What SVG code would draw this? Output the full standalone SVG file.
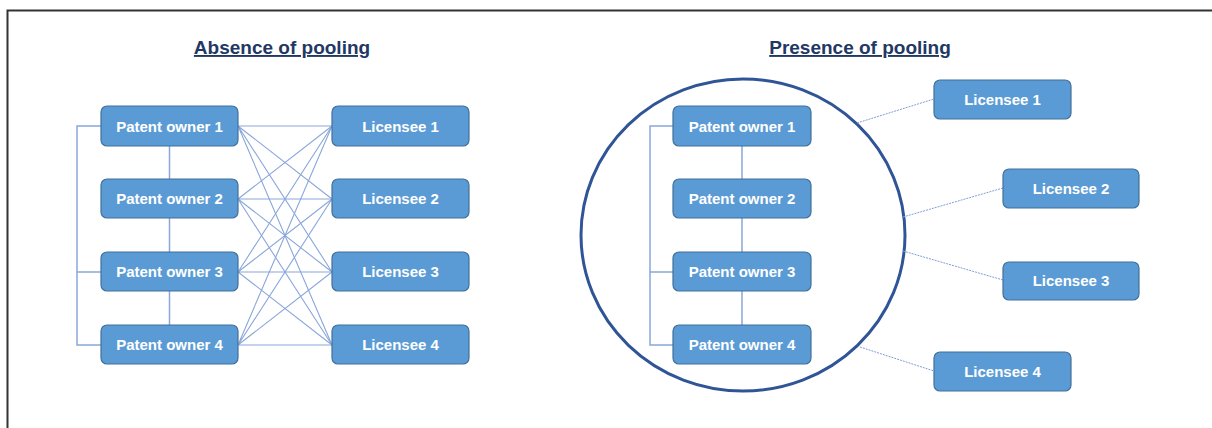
<svg xmlns="http://www.w3.org/2000/svg" width="1212" height="428" viewBox="0 0 1212 428">
  <style>
    .box { fill: #5b9bd5; stroke: #41719c; stroke-width: 1.2; }
    .lbl { font-family: "Liberation Sans", Arial, sans-serif; font-weight: bold; font-size: 15px; fill: #ffffff; text-anchor: middle; }
    .title { font-family: "Liberation Sans", Arial, sans-serif; font-weight: bold; font-size: 19px; fill: #1f3864; text-anchor: middle; text-decoration: underline; }
    .link { stroke: #8aa6da; stroke-width: 1.1; fill: none; }
    .tree { stroke: #8aa6da; stroke-width: 1.5; fill: none; }
    .dash { stroke: #7f9fd5; stroke-width: 1; stroke-dasharray: 2 1; fill: none; }
  </style>
  <rect x="0" y="0" width="1212" height="428" fill="#ffffff"/>
  <!-- frame -->
  <path d="M7.5 430 V10.5 H1214" fill="none" stroke="#333333" stroke-width="2"/>

  <text class="title" x="282" y="54">Absence of pooling</text>
  <text class="title" x="860" y="54">Presence of pooling</text>

  <!-- pool boundary -->
  <ellipse id="pool" cx="743" cy="235" rx="162" ry="156" fill="none" stroke="#2f5597" stroke-width="3"/>

  <g id="connectors">
    <!-- left: owner tree -->
    <path class="tree" d="M101 126 H77 V345 H101 M77 272 H101 M169.5 146 V179 M169.5 218 V252 M169.5 291 V325"/>
    <!-- left: every owner to every licensee -->
    <g class="link">
      <path d="M238 126 L332 126 M238 126 L332 199 M238 126 L332 272 M238 126 L332 345"/>
      <path d="M238 199 L332 126 M238 199 L332 199 M238 199 L332 272 M238 199 L332 345"/>
      <path d="M238 272 L332 126 M238 272 L332 199 M238 272 L332 272 M238 272 L332 345"/>
      <path d="M238 345 L332 126 M238 345 L332 199 M238 345 L332 272 M238 345 L332 345"/>
    </g>
    <!-- right: owner tree inside pool -->
    <path class="tree" d="M673 126 H650 V345 H673 M650 272 H673 M742 146 V179 M742 218 V252 M742 291 V325"/>
    <!-- right: pool to licensees -->
    <path class="dash" d="M857 123 L934 99"/>
    <path class="dash" d="M903 217 L1003 188"/>
    <path class="dash" d="M903 251 L1003 280"/>
    <path class="dash" d="M860 347 L934 371"/>
  </g>

  <!-- absence of pooling -->
  <g id="a-owner1"><rect class="box" x="101" y="106" width="137" height="40" rx="6"/><text class="lbl" x="169.5" y="131.5">Patent owner 1</text></g>
  <g id="a-owner2"><rect class="box" x="101" y="179" width="137" height="39" rx="6"/><text class="lbl" x="169.5" y="204">Patent owner 2</text></g>
  <g id="a-owner3"><rect class="box" x="101" y="252" width="137" height="39" rx="6"/><text class="lbl" x="169.5" y="277">Patent owner 3</text></g>
  <g id="a-owner4"><rect class="box" x="101" y="325" width="137" height="39" rx="6"/><text class="lbl" x="169.5" y="350">Patent owner 4</text></g>
  <g id="a-lic1"><rect class="box" x="332" y="106" width="137" height="40" rx="6"/><text class="lbl" x="400.5" y="131.5">Licensee 1</text></g>
  <g id="a-lic2"><rect class="box" x="332" y="179" width="137" height="39" rx="6"/><text class="lbl" x="400.5" y="204">Licensee 2</text></g>
  <g id="a-lic3"><rect class="box" x="332" y="252" width="137" height="39" rx="6"/><text class="lbl" x="400.5" y="277">Licensee 3</text></g>
  <g id="a-lic4"><rect class="box" x="332" y="325" width="137" height="39" rx="6"/><text class="lbl" x="400.5" y="350">Licensee 4</text></g>

  <!-- presence of pooling -->
  <g id="p-owner1"><rect class="box" x="673" y="106" width="138" height="40" rx="6"/><text class="lbl" x="742" y="131.5">Patent owner 1</text></g>
  <g id="p-owner2"><rect class="box" x="673" y="179" width="138" height="39" rx="6"/><text class="lbl" x="742" y="204">Patent owner 2</text></g>
  <g id="p-owner3"><rect class="box" x="673" y="252" width="138" height="39" rx="6"/><text class="lbl" x="742" y="277">Patent owner 3</text></g>
  <g id="p-owner4"><rect class="box" x="673" y="325" width="138" height="39" rx="6"/><text class="lbl" x="742" y="350">Patent owner 4</text></g>
  <g id="p-lic1"><rect class="box" x="934" y="80" width="137" height="39" rx="6"/><text class="lbl" x="1002.5" y="105">Licensee 1</text></g>
  <g id="p-lic2"><rect class="box" x="1003" y="169" width="136" height="39" rx="6"/><text class="lbl" x="1071" y="194">Licensee 2</text></g>
  <g id="p-lic3"><rect class="box" x="1003" y="262" width="136" height="38" rx="6"/><text class="lbl" x="1071" y="286">Licensee 3</text></g>
  <g id="p-lic4"><rect class="box" x="934" y="352" width="137" height="39" rx="6"/><text class="lbl" x="1002.5" y="377">Licensee 4</text></g>
</svg>
